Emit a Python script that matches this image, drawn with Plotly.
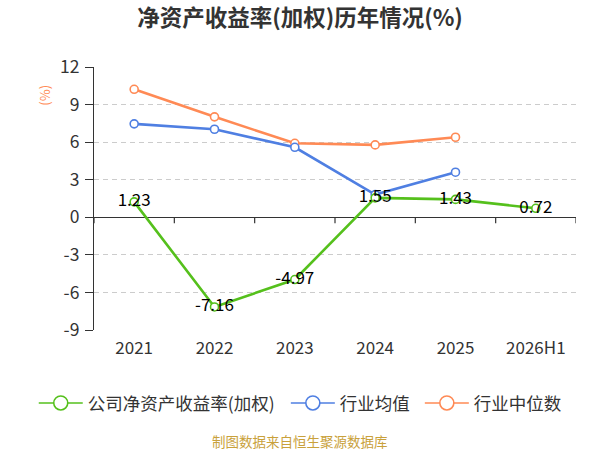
import plotly.graph_objects as go

years = ['2021', '2022', '2023', '2024', '2025', '2026H1']
company_roe = [1.23, -7.16, -4.97, 1.55, 1.43, 0.72]
industry_avg = [7.46, 7.03, 5.59, 1.81, 3.6, None]
industry_median = [10.22, 8.02, 5.91, 5.78, 6.39, None]
y_ticks = [-9, -6, -3, 0, 3, 6, 9, 12]

font_cn = 'Noto Sans CJK SC'
green, blue, orange = '#55c01c', '#4f7fe2', '#ff8a55'
series = [
    ('公司净资产收益率(加权)', company_roe, green, 'legend', -0.125),
    ('行业均值', industry_avg, blue, 'legend2', 0.398),
    ('行业中位数', industry_median, orange, 'legend3', 0.676),
]

fig = go.Figure()

# draw industry lines first so the company line and its labels sit on top
for name, values, color, _, _ in reversed(series):
    is_company = values is company_roe
    fig.add_trace(go.Scatter(
        x=years, y=values, name=name, showlegend=False,
        mode='lines+markers+text' if is_company else 'lines+markers',
        text=[f'{v:.2f}' for v in values] if is_company else None,
        textposition='middle center',
        textfont=dict(size=17, color='#000000', family=font_cn),
        line=dict(color=color, width=2.6),
        marker=dict(size=8, color='white', line=dict(color=color, width=1.6)),
    ))

# legend-only entries with the bigger circles, one legend box per entry
legends = {}
for name, values, color, legend_id, lx in series:
    fig.add_trace(go.Scatter(
        x=[None], y=[None], name=name, mode='lines+markers', legend=legend_id,
        line=dict(color=color, width=1.6),
        marker=dict(size=14, color='white', line=dict(color=color, width=1.6)),
    ))
    legends[legend_id] = dict(orientation='h', x=lx, xanchor='left',
                              y=-0.278, yanchor='middle', itemwidth=44,
                              font=dict(size=17.5, color='#333333'))

# ticks of the x axis hang from the zero line, between categories
for i in range(len(years) + 1):
    fig.add_shape(type='line', xref='x', yref='y', ysizemode='pixel', yanchor=0,
                  x0=i - 0.5, x1=i - 0.5, y0=0, y1=-6,
                  line=dict(color='#333333', width=1.2), layer='below')

fig.update_layout(
    width=600, height=450,
    margin=dict(l=94, r=24, t=67, b=120),
    paper_bgcolor='white', plot_bgcolor='white',
    font=dict(family=font_cn, color='#333333'),
    title=dict(text='<b>净资产收益率(加权)历年情况(%)</b>', x=0.5, xanchor='center',
               y=1 - 18 / 450, yanchor='middle', font=dict(size=22.5, color='#333333')),
    showlegend=True,
    **legends,
)

fig.update_xaxes(
    type='category', categoryorder='array', categoryarray=years,
    range=[-0.5, len(years) - 0.5], showgrid=False, showline=False, zeroline=False,
    tickfont=dict(size=17, color='#333333'), ticks='', ticklabelstandoff=6,
)
fig.update_yaxes(
    range=[-9, 12], tickvals=y_ticks, ticktext=[str(v) for v in y_ticks],
    showgrid=True, gridcolor='#cccccc', griddash='5px,4px', gridwidth=1,
    zeroline=True, zerolinecolor='#333333', zerolinewidth=1.2,
    showline=True, linecolor='#333333', linewidth=1.2,
    ticks='outside', ticklen=8, tickcolor='#333333',
    tickfont=dict(size=17.5, color='#333333'), ticklabelstandoff=2,
)

fig.add_annotation(text='(%)', xref='paper', yref='paper', x=-0.102, y=0.894,
                   xanchor='center', yanchor='middle',
                   textangle=-90, showarrow=False,
                   font=dict(size=13, color=orange, family=font_cn))
fig.add_annotation(text='制图数据来自恒生聚源数据库', xref='paper', yref='paper',
                   x=0.427, y=-0.422, xanchor='center', yanchor='middle', showarrow=False,
                   font=dict(size=13.5, color='#c9a13b', family=font_cn))

# drop the browser's default 8px body margin so the figure fills the window
fig.write_html('out.html', config={'displayModeBar': False},
               post_script="document.body.style.margin='0';")
